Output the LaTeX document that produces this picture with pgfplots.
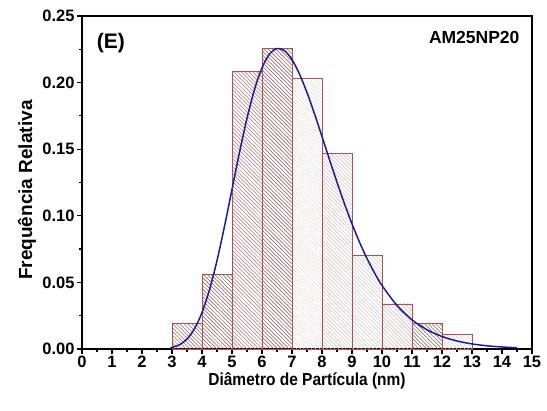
\documentclass[border=0pt]{standalone}
\usepackage{pgfplots}
\pgfplotsset{compat=1.18}
\usepackage{fontspec}
\setmainfont{Liberation Sans}
\usetikzlibrary{patterns.meta}

\definecolor{binedge}{HTML}{B05050}
\definecolor{fitblue}{HTML}{1C1C9A}

% hatch style for each histogram bin
\tikzset{
  hatch/.style={draw=binedge, line width=0.9pt,
    pattern={Lines[angle=-45,distance=2.7pt,line width=0.5pt]},
    pattern color=#1}
}
\definecolor{hA}{HTML}{A06060}
\definecolor{hB}{HTML}{8A4A4A}
\definecolor{hC}{HTML}{B07070}
\definecolor{hD}{HTML}{8A4A4A}
\definecolor{hE}{HTML}{E6DADA}
\definecolor{hF}{HTML}{D9B8B8}
\definecolor{hG}{HTML}{D4C8C8}
\definecolor{hH}{HTML}{CCB4B4}
\definecolor{hI}{HTML}{7A5A5A}
\definecolor{hJ}{HTML}{DCCACA}

\begin{document}
\begin{tikzpicture}
\path[use as bounding box] (-82pt,-62pt) rectangle (465pt,349pt);
\begin{axis}[
  at={(0,0)}, anchor=south west,
  scale only axis, width=450pt, height=333pt,
  xmin=0, xmax=15, ymin=0, ymax=0.25,
  axis line style={line width=1.6pt},
  xtick={0,1,...,15},
  minor xtick={0.5,1.5,...,14.5},
  ytick={0,0.05,0.10,0.15,0.20,0.25},
  minor ytick={0.025,0.075,...,0.225},
  /pgf/number format/fixed,
  /pgf/number format/assume math mode=true,
  yticklabel style={/pgf/number format/fixed zerofill, /pgf/number format/precision=2,
    font=\fontsize{16.5}{16.5}\selectfont\bfseries, xshift=1pt},
  xticklabel style={font=\fontsize{16.5}{16.5}\selectfont\bfseries, inner sep=1.5pt},
  tick align=outside,
  xtick pos=bottom, ytick pos=left,
  major tick length=5pt, minor tick length=3pt,
  every tick/.style={black, line width=1.2pt},
  xlabel={Diâmetro de Partícula (nm)},
  ylabel={Frequência Relativa},
  xlabel style={font=\fontsize{15.5}{15.5}\selectfont\bfseries, inner sep=0pt,
    at={(axis description cs:0.5,0)}, anchor=base, yshift=-37pt, yscale=1.12},
  ylabel style={font=\fontsize{19}{19}\selectfont\bfseries,
    at={(axis description cs:-0.122,0.477)}, anchor=center},
  clip=false,
]
% histogram bins (relative frequency per 1 nm bin)
\addplot[ybar interval, hatch=hA] coordinates {(3,0.0193) (4,0)};
\addplot[ybar interval, hatch=hB] coordinates {(4,0.0563) (5,0)};
\addplot[ybar interval, hatch=hC] coordinates {(5,0.2087) (6,0)};
\addplot[ybar interval, hatch=hD] coordinates {(6,0.2257) (7,0)};
\addplot[ybar interval, hatch=hE] coordinates {(7,0.2029) (8,0)};
\addplot[ybar interval, hatch=hF] coordinates {(8,0.1465) (9,0)};
\addplot[ybar interval, hatch=hG] coordinates {(9,0.0705) (10,0)};
\addplot[ybar interval, hatch=hH] coordinates {(10,0.0338) (11,0)};
\addplot[ybar interval, hatch=hI] coordinates {(11,0.0193) (12,0)};
\addplot[ybar interval, hatch=hJ] coordinates {(12,0.0112) (13,0)};

% log-normal fit
\addplot[fitblue, line width=1.5pt, smooth] coordinates {
(2.95,0.0009) (3,0.00114) (3.25,0.00318) (3.5,0.00746) (3.75,0.01517)
(4,0.02733) (4.25,0.04449) (4.5,0.06642) (4.75,0.09210) (5,0.11986)
(5.25,0.14758) (5.5,0.17317) (5.75,0.19479) (6,0.21112) (6.25,0.22143)
(6.5,0.22558) (6.75,0.22393) (7,0.21721) (7.25,0.20638) (7.5,0.19248)
(7.75,0.17654) (8,0.15951) (8.25,0.14218) (8.5,0.12518) (8.75,0.10900)
(9,0.09395) (9.25,0.08025) (9.5,0.06798) (9.75,0.05714) (10,0.04771)
(10.5,0.03266) (11,0.02189) (11.5,0.01442) (12,0.00937) (12.5,0.00601)
(13,0.00382) (13.5,0.00241) (14,0.00151) (14.5,0.00094)
};

\node[font=\fontsize{21}{21}\selectfont\bfseries, anchor=base west]
  at (rel axis cs:0.025,0.902) {(E)};
\node[font=\fontsize{17.5}{17.5}\selectfont\bfseries, anchor=base east]
  at (rel axis cs:0.98,0.918) {AM25NP20};
\end{axis}
\end{tikzpicture}
\end{document}
